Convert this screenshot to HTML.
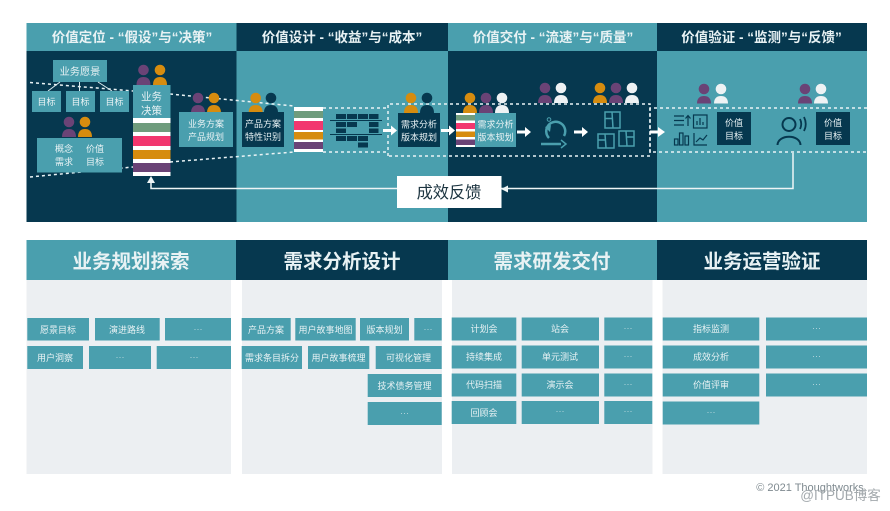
<!DOCTYPE html>
<html><head><meta charset="utf-8"><style>
html,body{margin:0;padding:0;background:#fff;width:890px;height:511px;overflow:hidden}
svg{display:block;filter:blur(0.35px)}
text{font-family:"Liberation Sans","Noto Sans CJK SC",sans-serif;text-anchor:middle;fill:#e8f2f4}
.h1{font-size:13.5px;font-weight:700}
.h2{font-size:19.5px;font-weight:700}
.c{font-size:9px}
.d{font-size:9px;fill:#b9d8de}
.b{font-size:10.2px}
.s{font-size:9px}
.t{fill:#4a9fae}
.k{fill:#06384f}
.p{fill:#eceff2}
.ch{fill:#4a9fae}
.dash{fill:none;stroke:#e9f3f5;stroke-width:1.5;stroke-dasharray:3 3}
.pu{fill:#6a4376}.or{fill:#d68c0f}.wh{fill:#eef2f4}.dk{fill:#06384f}
</style></head><body>
<svg width="890" height="511" viewBox="0 0 890 511" xmlns="http://www.w3.org/2000/svg">
<!-- top panels -->
<rect x="26.5" y="23" width="210" height="28" class="t"/>
<rect x="236.5" y="23" width="211.5" height="28" class="k"/>
<rect x="448" y="23" width="209" height="28" class="t"/>
<rect x="657" y="23" width="210" height="28" class="k"/>
<rect x="26.5" y="51" width="210" height="171" class="k"/>
<rect x="236.5" y="51" width="211.5" height="171" class="t"/>
<rect x="448" y="51" width="209" height="171" class="k"/>
<rect x="657" y="51" width="210" height="171" class="t"/>
<text class="h1" x="132" y="42">价值定位 - “假设”与“决策”</text>
<text class="h1" x="342" y="42">价值设计 - “收益”与“成本”</text>
<text class="h1" x="553" y="42">价值交付 - “流速”与“质量”</text>
<text class="h1" x="761.5" y="42">价值验证 - “监测”与“反馈”</text>

<!-- dashed lines -->
<path class="dash" d="M30 82.500 L133 91 M170 94 L294 106"/>
<path class="dash" d="M30 177 L133 167 M170 162 L294 152"/>
<path class="dash" d="M323 108 H388 M323 152 H388"/>
<path class="dash" d="M388 156 V104 H650 V156 H388"/>
<path class="dash" d="M867 108 H650 V152 H867"/>

<!-- feedback -->
<path d="M793 153 V188.500 H151 V181" fill="none" stroke="#eef5f6" stroke-width="1.5"/>
<path d="M151 176 L155 183 H147 Z" fill="#eef5f6"/>
<path d="M501 189 L508 185.500 V192.500 Z" fill="#eef5f6"/>
<rect x="397" y="176" width="104.500" height="32" fill="#fff"/>
<text x="449" y="198" style="font-size:16.2px;fill:#1c3440">成效反馈</text>

<!-- col 1 -->
<rect x="53" y="60" width="54" height="22" class="t"/>
<text class="b" x="80" y="75">业务愿景</text>
<path d="M48 91 L60 82 M79.500 91 V82 M112 91 L98 82" stroke="#dcecef" stroke-width="1" fill="none"/>
<rect x="32" y="91" width="29" height="21" class="t"/><text class="s" x="46.500" y="105">目标</text>
<rect x="66" y="91" width="29" height="21" class="t"/><text class="s" x="80.500" y="105">目标</text>
<rect x="100" y="91" width="29" height="21" class="t"/><text class="s" x="114.500" y="105">目标</text>
<rect x="37" y="138" width="85" height="34.500" class="t"/>
<text class="s" x="64" y="152">概念</text><text class="s" x="64" y="165">需求</text>
<text class="s" x="95" y="152">价值</text><text class="s" x="95" y="165">目标</text>

<g transform="translate(143.500,70)"><circle r="5.300" class="pu"/><path d="M-7 15 C-7 9 -4 7 0 7 C4 7 7 9 7 15 Z" class="pu"/></g>
<g transform="translate(160,70)"><circle r="5.300" class="or"/><path d="M-7 15 C-7 9 -4 7 0 7 C4 7 7 9 7 15 Z" class="or"/></g>
<g transform="translate(69,122)"><circle r="5.300" class="pu"/><path d="M-7 15 C-7 9 -4 7 0 7 C4 7 7 9 7 15 Z" class="pu"/></g>
<g transform="translate(85,122)"><circle r="5.300" class="or"/><path d="M-7 15 C-7 9 -4 7 0 7 C4 7 7 9 7 15 Z" class="or"/></g>

<rect x="133" y="85" width="37.500" height="33" class="t"/>
<text x="151.500" y="100" style="font-size:10.500px">业务</text>
<text x="151.500" y="114" style="font-size:10.500px">决策</text>
<rect x="133" y="118" width="37.500" height="58" fill="#fff"/>
<rect x="133" y="123" width="37.500" height="9" fill="#6f9c7d"/>
<rect x="133" y="136" width="37.500" height="10" fill="#f2376f"/>
<rect x="133" y="150" width="37.500" height="9" fill="#d68c0f"/>
<rect x="133" y="163" width="37.500" height="9" fill="#6a4376"/>

<g transform="translate(198,98)"><circle r="5.300" class="pu"/><path d="M-7 15 C-7 9 -4 7 0 7 C4 7 7 9 7 15 Z" class="pu"/></g>
<g transform="translate(214,98)"><circle r="5.300" class="or"/><path d="M-7 15 C-7 9 -4 7 0 7 C4 7 7 9 7 15 Z" class="or"/></g>
<rect x="179" y="112" width="54" height="35" class="t"/>
<text class="s" x="206" y="127">业务方案</text><text class="s" x="206" y="140">产品规划</text>

<!-- col 2 -->
<g transform="translate(255.700,98)"><circle r="5.300" class="or"/><path d="M-7 14.500 C-7 9 -4 7 0 7 C4 7 7 9 7 14.500 Z" class="or"/></g>
<g transform="translate(271,98)"><circle r="5.300" class="dk"/><path d="M-7 14.500 C-7 9 -4 7 0 7 C4 7 7 9 7 14.500 Z" class="dk"/></g>
<rect x="242" y="112" width="42" height="35" class="k"/>
<text class="s" x="263" y="127">产品方案</text><text class="s" x="263" y="140">特性识别</text>

<rect x="294" y="107" width="29" height="45" fill="#fff"/>
<rect x="294" y="111" width="29" height="7" fill="#6f9c7d"/>
<rect x="294" y="121" width="29" height="9" fill="#f2376f"/>
<rect x="294" y="132" width="29" height="7.500" fill="#d68c0f"/>
<rect x="294" y="142" width="29" height="7" fill="#6a4376"/>

<path d="M330 120.500 H382 M330 134.500 H382" stroke="#06384f" stroke-width="1"/>
<g class="k">
<rect x="336" y="114" width="10" height="5"/><rect x="347" y="114" width="10" height="5"/><rect x="358" y="114" width="10" height="5"/><rect x="369" y="114" width="9.500" height="5"/>
<rect x="336" y="122" width="10" height="5"/><rect x="347" y="122" width="10" height="5"/><rect x="369" y="122" width="9.500" height="5"/>
<rect x="336" y="128.500" width="10" height="4.500"/><rect x="369" y="128.500" width="9.500" height="4.500"/>
<rect x="336" y="136" width="10" height="5"/><rect x="347" y="136" width="10" height="5"/><rect x="358" y="136" width="10" height="5"/>
<rect x="358" y="142.500" width="10" height="5"/>
</g>

<path d="M383 129 H391 V125.500 L397 130.500 L391 135.500 V132 H383 Z" fill="#fff"/>
<g transform="translate(411,98)"><circle r="5.300" class="or"/><path d="M-7 15 C-7 9 -4 7 0 7 C4 7 7 9 7 15 Z" class="or"/></g>
<g transform="translate(427,98)"><circle r="5.300" class="dk"/><path d="M-7 15 C-7 9 -4 7 0 7 C4 7 7 9 7 15 Z" class="dk"/></g>
<rect x="398" y="113" width="42" height="34" class="k"/>
<text class="s" x="419" y="127.500">需求分析</text><text class="s" x="419" y="140.500">版本规划</text>
<path d="M441 129 H449 V125.500 L455 130.500 L449 135.500 V132 H441 Z" fill="#fff"/>

<!-- col 3 -->
<g transform="translate(470,98)"><circle r="5.300" class="or"/><path d="M-7 15 C-7 9 -4 7 0 7 C4 7 7 9 7 15 Z" class="or"/></g>
<g transform="translate(486,98)"><circle r="5.300" class="pu"/><path d="M-7 15 C-7 9 -4 7 0 7 C4 7 7 9 7 15 Z" class="pu"/></g>
<g transform="translate(502,98)"><circle r="5.300" class="wh"/><path d="M-7 15 C-7 9 -4 7 0 7 C4 7 7 9 7 15 Z" class="wh"/></g>
<rect x="475" y="113" width="41" height="34" class="t"/>
<rect x="456" y="113" width="19" height="34" fill="#fff"/>
<rect x="456" y="115" width="19" height="5.500" fill="#6f9c7d"/>
<rect x="456" y="123" width="19" height="6" fill="#f2376f"/>
<rect x="456" y="131.500" width="19" height="5.500" fill="#d68c0f"/>
<rect x="456" y="139.500" width="19" height="5.500" fill="#6a4376"/>
<text class="s" x="495.500" y="127.500">需求分析</text><text class="s" x="495.500" y="140.500">版本规划</text>
<path d="M517 130.500 H525 V127 L531 132 L525 137 V133.500 H517 Z" fill="#fff"/>
<path d="M574 130.500 H582 V127 L588 132 L582 137 V133.500 H574 Z" fill="#fff"/>
<path d="M650 130.500 H658 V127 L665 132 L658 137 V133.500 H650 Z" fill="#fff"/>

<g fill="none" stroke="#4a9fae" stroke-width="2.500">
<path d="M549 138 A9.500 9.500 0 1 1 564 136"/>
<path d="M541 144 H561"/>
<path d="M561 140 L566 144 L561 148" stroke-width="1.500"/>
<circle cx="549" cy="119.500" r="1.800" stroke-width="1"/>
</g>
<path d="M551 125 L545 127 L550 132 Z" fill="#4a9fae"/>

<g fill="none" stroke="#4a9fae" stroke-width="1.500">
<rect x="605" y="112" width="15" height="16"/><path d="M605 118.500 H612 M612 112 L613 128"/>
<rect x="598" y="134" width="16" height="14"/><path d="M605 134 L606 148 M598 140 H605"/>
<rect x="619" y="131" width="15" height="15"/><path d="M626 131 L627 146 M626 137 H634"/>
</g>

<g transform="translate(545,88)"><circle r="5.300" class="pu"/><path d="M-7 15 C-7 9 -4 7 0 7 C4 7 7 9 7 15 Z" class="pu"/></g>
<g transform="translate(561,88)"><circle r="5.300" class="wh"/><path d="M-7 15 C-7 9 -4 7 0 7 C4 7 7 9 7 15 Z" class="wh"/></g>
<g transform="translate(600,88)"><circle r="5.300" class="or"/><path d="M-7 15 C-7 9 -4 7 0 7 C4 7 7 9 7 15 Z" class="or"/></g>
<g transform="translate(616,88)"><circle r="5.300" class="pu"/><path d="M-7 15 C-7 9 -4 7 0 7 C4 7 7 9 7 15 Z" class="pu"/></g>
<g transform="translate(632,88)"><circle r="5.300" class="wh"/><path d="M-7 15 C-7 9 -4 7 0 7 C4 7 7 9 7 15 Z" class="wh"/></g>

<!-- col 4 -->
<g transform="translate(704,89)"><circle r="5.300" class="pu"/><path d="M-7 14.500 C-7 9 -4 7 0 7 C4 7 7 9 7 14.500 Z" class="pu"/></g>
<g transform="translate(721,89)"><circle r="5.300" class="wh"/><path d="M-7 14.500 C-7 9 -4 7 0 7 C4 7 7 9 7 14.500 Z" class="wh"/></g>
<g transform="translate(805,89)"><circle r="5.300" class="pu"/><path d="M-7 14.500 C-7 9 -4 7 0 7 C4 7 7 9 7 14.500 Z" class="pu"/></g>
<g transform="translate(821,89)"><circle r="5.300" class="wh"/><path d="M-7 14.500 C-7 9 -4 7 0 7 C4 7 7 9 7 14.500 Z" class="wh"/></g>
<rect x="717" y="112" width="34" height="33" class="k"/>
<text class="s" x="734" y="126">价值</text><text class="s" x="734" y="139">目标</text>
<rect x="816" y="112" width="34" height="33" class="k"/>
<text class="s" x="833" y="126">价值</text><text class="s" x="833" y="139">目标</text>

<g fill="none" stroke="#06384f" stroke-width="1.200">
<path d="M674 116 H684 M674 120.500 H684 M674 125 H684 M688 126 V116 M685.500 118.500 L688 115.500 L690.500 118.500"/>
<rect x="693.500" y="115" width="13.500" height="13"/>
<path d="M697 125 V121 M700 125 V118 M703 125 V122"/>
<rect x="674.500" y="139" width="3.500" height="6"/><rect x="679.500" y="133" width="3.500" height="12"/><rect x="685" y="136" width="3.500" height="9"/>
<path d="M694 133 V145 H707 M696 142 L700 138 L703 140 L707 135"/>
<circle cx="789" cy="124.500" r="6.500" stroke-width="2"/>
<path d="M777.500 145 C778 134 800 134 800.500 145" stroke-width="2"/>
<path d="M800 119 Q802.500 124 800 129 M804 117 Q807.500 124 804 131" stroke-width="1.800"/>
</g>

<!-- bottom -->
<rect x="26.5" y="240" width="209.500" height="40" class="t"/>
<rect x="236" y="240" width="212" height="40" class="k"/>
<rect x="448" y="240" width="209" height="40" class="t"/>
<rect x="657" y="240" width="210" height="40" class="k"/>
<text class="h2" x="131" y="268">业务规划探索</text>
<text class="h2" x="342" y="268">需求分析设计</text>
<text class="h2" x="552" y="268">需求研发交付</text>
<text class="h2" x="762" y="268">业务运营验证</text>
<rect x="26.5" y="280" width="204.500" height="194" class="p"/>
<rect x="242" y="280" width="200" height="194" class="p"/>
<rect x="452" y="280" width="200.500" height="194" class="p"/>
<rect x="662.500" y="280" width="204.500" height="194" class="p"/>

<g class="ch">
<rect x="27.300" y="318" width="61.700" height="22.500"/><rect x="95" y="318" width="64.700" height="22.500"/><rect x="165" y="318" width="66" height="22.500"/>
<rect x="27.300" y="346" width="55.700" height="23"/><rect x="89" y="346" width="62" height="23"/><rect x="156.700" y="346" width="74.300" height="23"/>
<rect x="241.700" y="318" width="49" height="22.500"/><rect x="295.300" y="318" width="60.400" height="22.500"/><rect x="360" y="318" width="49" height="22.500"/><rect x="414.300" y="318" width="27.400" height="22.500"/>
<rect x="241.700" y="346" width="60.300" height="23"/><rect x="308" y="346" width="61.300" height="23"/><rect x="375.700" y="346" width="66" height="23"/>
<rect x="367.700" y="374" width="74" height="23"/><rect x="367.700" y="402" width="74" height="23"/>
<rect x="451.700" y="317.500" width="64.600" height="23"/><rect x="521.700" y="317.500" width="77.300" height="23"/><rect x="604.300" y="317.500" width="48" height="23"/>
<rect x="451.700" y="345.500" width="64.600" height="23"/><rect x="521.700" y="345.500" width="77.300" height="23"/><rect x="604.300" y="345.500" width="48" height="23"/>
<rect x="451.700" y="373.500" width="64.600" height="23"/><rect x="521.700" y="373.500" width="77.300" height="23"/><rect x="604.300" y="373.500" width="48" height="23"/>
<rect x="451.700" y="401" width="64.600" height="23"/><rect x="521.700" y="401" width="77.300" height="23"/><rect x="604.300" y="401" width="48" height="23"/>
<rect x="662.700" y="317.500" width="96.600" height="23"/><rect x="766" y="317.500" width="101" height="23"/>
<rect x="662.700" y="345.500" width="96.600" height="23"/><rect x="766" y="345.500" width="101" height="23"/>
<rect x="662.700" y="373.500" width="96.600" height="23"/><rect x="766" y="373.500" width="101" height="23"/>
<rect x="662.700" y="401.500" width="96.600" height="23"/>
</g>

<text class="c" x="58" y="333">愿景目标</text><text class="c" x="127" y="333">演进路线</text><text class="d" x="198" y="332">···</text>
<text class="c" x="55" y="361">用户洞察</text><text class="d" x="120" y="360">···</text><text class="d" x="194" y="360">···</text>
<text class="c" x="266" y="333">产品方案</text><text class="c" x="325.500" y="333">用户故事地图</text><text class="c" x="384.500" y="333">版本规划</text><text class="d" x="428" y="332">···</text>
<text class="c" x="272" y="361">需求条目拆分</text><text class="c" x="338.500" y="361">用户故事梳理</text><text class="c" x="408.500" y="361">可视化管理</text>
<text class="c" x="404.500" y="389">技术债务管理</text><text class="d" x="404.500" y="416">···</text>

<text class="c" x="484" y="332">计划会</text><text class="c" x="560" y="332">站会</text><text class="d" x="628" y="331">···</text>
<text class="c" x="484" y="360">持续集成</text><text class="c" x="560" y="360">单元测试</text><text class="d" x="628" y="359">···</text>
<text class="c" x="484" y="388">代码扫描</text><text class="c" x="560" y="388">演示会</text><text class="d" x="628" y="387">···</text>
<text class="c" x="484" y="416">回顾会</text><text class="d" x="560" y="414">···</text><text class="d" x="628" y="414">···</text>

<text class="c" x="711" y="332">指标监测</text><text class="d" x="816.500" y="331">···</text>
<text class="c" x="711" y="360">成效分析</text><text class="d" x="816.500" y="359">···</text>
<text class="c" x="711" y="388">价值评审</text><text class="d" x="816.500" y="387">···</text>
<text class="d" x="711" y="415">···</text>

<text x="810" y="491" style="font-size:11px;fill:#7f8a90">© 2021 Thoughtworks</text>
<text x="840.500" y="500" style="font-size:13.500px;fill:#a3a9ad">@ITPUB博客</text>
</svg>
</body></html>
